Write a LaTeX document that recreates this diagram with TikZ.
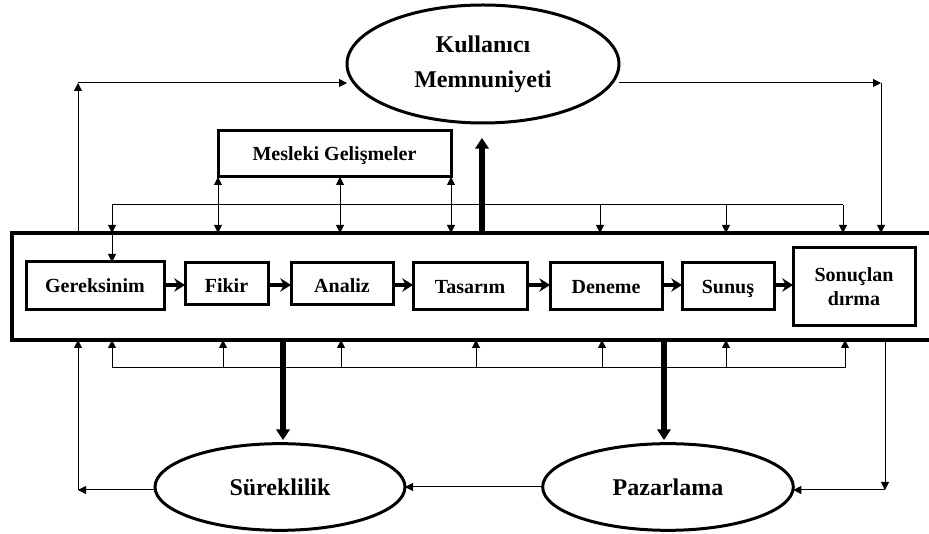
\documentclass[tikz,border=0pt]{standalone}
\usepackage{fontspec}
\setmainfont{Liberation Serif}
\usetikzlibrary{shapes.geometric,arrows.meta}
\begin{document}
\begin{tikzpicture}[x=0.75pt, y=-0.75pt,
		every node/.style={font=\bfseries\fontsize{15}{18}\selectfont, outer sep=0pt},
		stage/.style={draw, line width=2.25pt, inner sep=0pt, minimum height=35.25pt},
		oneline/.style={text height=10pt, text depth=0pt},
		lowline/.style={text height=14.25pt, text depth=0pt},
		oval/.style={ellipse, draw, line width=2.25pt, inner sep=0pt, font=\bfseries\fontsize{18}{26}\selectfont},
		flow/.style={-{Stealth[length=8pt,width=10pt]}, line width=3pt},
		link/.style={-{Triangle[length=6pt,width=6pt]}, line width=0.75pt},
		twoway/.style={{Triangle[length=6pt,width=6pt]}-{Triangle[length=6pt,width=6pt]}, line width=0.75pt},
		heavy/.style={-{Triangle[length=8pt,width=10pt]}, line width=4.5pt},
	]
	\useasboundingbox (0,0) rectangle (929,534);
	\node[draw, line width=3pt, minimum width=696pt, minimum height=80.25pt] (frame) at (476,286.5) {};
	\node[stage, oneline, minimum width=103.5pt, minimum height=36pt] (need) at (95,286) {Gereksinim};
	\node[stage, lowline, minimum width=62.25pt, minimum height=31.5pt] (idea) at (226.5,283.5) {Fikir};
	\node[stage, lowline, minimum width=76.5pt, minimum height=31.5pt] (analysis) at (342,283.5) {Analiz};
	\node[stage, oneline, minimum width=85.5pt] (design) at (470,286.5) {Tasarım};
	\node[stage, oneline, minimum width=84pt] (trial) at (606,286.5) {Deneme};
	\node[stage, oneline, minimum width=69pt] (present) at (728,286.5) {Sunuş};
	\node[stage, minimum width=91.5pt, minimum height=58.5pt, align=center] (result) at (854,287) {Sonuçlan\\dırma};
	\node[stage, oneline, minimum width=174.75pt, minimum height=34.5pt] (prof) at (334.5,154) {Mesleki Gelişmeler};
	\node[oval, minimum width=204pt, minimum height=88.5pt, align=center] (user) at (483,64) {Kullanıcı\\Memnuniyeti};
	\node[oval, minimum width=187.5pt, minimum height=65pt] (cont) at (280,487) {Süreklilik};
	\node[oval, minimum width=188pt, minimum height=65pt] (market) at (668,487) {Pazarlama};

	\coordinate (mid) at (0,285);
	\foreach \a/\b in {need/idea, idea/analysis, analysis/design, design/trial, trial/present, present/result}
		\draw[flow] (\a.east |- mid) -- (\b.west |- mid);

	\coordinate (tl) at (78,83);
	\coordinate (tr) at (881,83);
	\draw[link] (frame.north -| tl) -- (tl);
	\draw[link] (tl) -- (tl -| user.west);
	\draw[link] (tr -| user.east) -- (tr);
	\draw[link] (tr) -- (frame.north -| tr);

	\coordinate (rise) at (482,138);
	\draw[heavy] (frame.north -| rise) -- (rise);

	\foreach \x [count=\i] in {218,340,451} {
		\coordinate (m\i) at (\x,177);
		\draw[twoway] (prof.south -| m\i) -- (frame.north -| m\i);
	}

	\foreach \x [count=\i] in {112,600,726,843} {
		\coordinate (d\i) at (\x,205);
		\draw[link] (d\i) -- (frame.north -| d\i);
	}
	\draw[line width=0.75pt] (d1) -- (d4);
	\draw[link] (frame.north -| d1) -- (need.north -| d1);

	\foreach \x [count=\i] in {112,223,341,476,602,726,845} {
		\coordinate (u\i) at (\x,368);
		\draw[link] (u\i) -- (frame.south -| u\i);
	}
	\draw[line width=0.75pt] (u1) -- (u7);

	\coordinate (drop1) at (283,440);
	\coordinate (drop2) at (664,440);
	\draw[heavy] (frame.south -| drop1) -- (drop1);
	\draw[heavy] (frame.south -| drop2) -- (drop2);

	\coordinate (bl) at (78,490);
	\coordinate (br) at (885,490);
	\draw[link] (bl -| cont.west) -- (bl);
	\draw[link] (bl) -- (frame.south -| bl);
	\draw[link] (market.west) -- (cont.east);
	\draw[link] (frame.south -| br) -- (br);
	\draw[link] (br) -- (br -| market.east);
\end{tikzpicture}
\end{document}
